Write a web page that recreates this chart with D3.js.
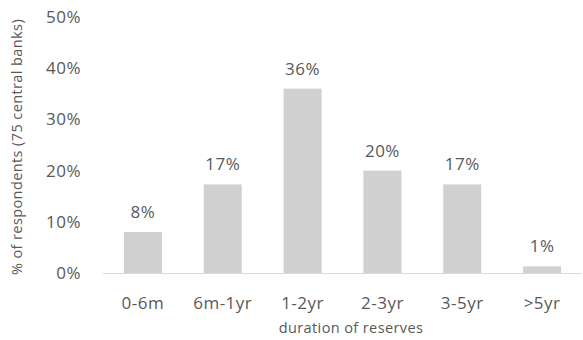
<!DOCTYPE html>
<html><head><meta charset="utf-8">
<script src="https://cdn.jsdelivr.net/npm/d3@7"></script>
<style>body{margin:0;background:#fff}svg{display:block}</style>
</head><body>
<script>
const categories = ["0-6m","6m-1yr","1-2yr","2-3yr","3-5yr",">5yr"];
const values = [8, 17.3, 36, 20, 17.3, 1.3];
const valueLabels = ["8%","17%","36%","20%","17%","1%"];
const yTicks = [0,10,20,30,40,50];
const yTickLabels = ["0%","10%","20%","30%","40%","50%"];

const W=583,H=340;
const svg=d3.select("body").append("svg").attr("width",W).attr("height",H);
const font="'Open Sans', Lato, sans-serif";
const x=d3.scaleBand().domain(categories).range([103,582]);
const y=d3.scaleLinear().domain([0,50]).range([273,17]);
const bw=38;

svg.append("g").selectAll("rect").data(values).join("rect")
  .attr("x",(d,i)=>x(categories[i])+x.bandwidth()/2-bw/2)
  .attr("y",d=>y(d)).attr("width",bw).attr("height",d=>y(0)-y(d))
  .attr("fill","#d0d0d0");

svg.append("line").attr("x1",x.range()[0]).attr("x2",x.range()[1])
  .attr("y1",y(0)+0.5).attr("y2",y(0)+0.5).attr("stroke","#d9d9d9").attr("stroke-width",1);

svg.append("g").selectAll("text").data(values).join("text")
  .attr("x",(d,i)=>x(categories[i])+x.bandwidth()/2)
  .attr("y",d=>y(d)-14).attr("text-anchor","middle")
  .attr("font-family",font).attr("font-size",17).attr("letter-spacing",0.5).attr("fill","#595959")
  .text((d,i)=>valueLabels[i]);

svg.append("g").selectAll("text").data(yTicks).join("text")
  .attr("x",81).attr("y",d=>y(d)+6).attr("text-anchor","end")
  .attr("font-family",font).attr("font-size",17).attr("letter-spacing",0.5).attr("fill","#595959")
  .text((d,i)=>yTickLabels[i]);

svg.append("g").selectAll("text").data(categories).join("text")
  .attr("x",d=>x(d)+x.bandwidth()/2).attr("y",309).attr("text-anchor","middle")
  .attr("font-family",font).attr("font-size",17).attr("letter-spacing",0.5).attr("fill","#595959")
  .text(d=>d);

svg.append("text").attr("x",351).attr("y",333).attr("text-anchor","middle")
  .attr("font-family",font).attr("font-size",14.5).attr("letter-spacing",0.4).attr("fill","#595959")
  .text("duration of reserves");

svg.append("text").attr("transform","translate(22,147) rotate(-90)").attr("text-anchor","middle")
  .attr("font-family",font).attr("font-size",14.5).attr("letter-spacing",0.4).attr("fill","#595959")
  .text("% of respondents (75 central banks)");
</script>
</body></html>
